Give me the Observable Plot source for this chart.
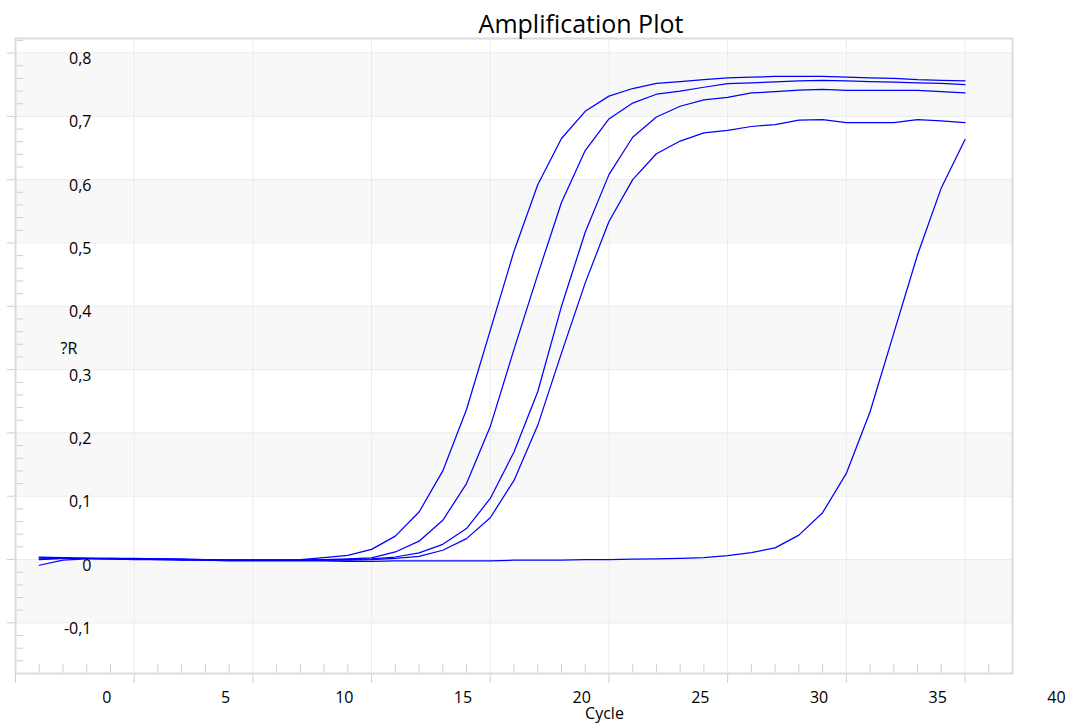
<!DOCTYPE html>
<html><head><meta charset="utf-8">
<script src="https://cdn.jsdelivr.net/npm/d3@7"></script>
<script src="https://cdn.jsdelivr.net/npm/@observablehq/plot@0.6"></script>
<style>body{margin:0;background:#fff;} svg{display:block;}</style>
</head><body><div id="chart"></div>
<script>
const cycles = [1,2,3,4,5,6,7,8,9,10,11,12,13,14,15,16,17,18,19,20,21,22,23,24,25,26,27,28,29,30,31,32,33,34,35,36,37,38,39,40];
const wellA = [0.004,0.003,0.002,0.002,0.002,0.001,0.001,0.000,-0.001,-0.001,-0.001,0.000,0.003,0.0065,0.016,0.037,0.075,0.140,0.237,0.362,0.487,0.592,0.665,0.708,0.732,0.744,0.752,0.755,0.758,0.761,0.762,0.763,0.763,0.763,0.762,0.761,0.760,0.758,0.757,0.756];
const wellB = [0.003,0.002,0.002,0.002,0.001,0.001,0.000,0.000,-0.001,-0.001,-0.001,-0.001,0.000,0.001,0.0025,0.012,0.029,0.062,0.120,0.210,0.332,0.450,0.564,0.646,0.696,0.721,0.735,0.740,0.746,0.7516,0.753,0.7546,0.756,0.757,0.756,0.755,0.754,0.753,0.752,0.750];
const wellC = [0.001,0.002,0.002,0.001,0.001,0.001,0.000,0.000,-0.001,-0.001,-0.001,-0.001,-0.001,0.000,0.001,0.004,0.0105,0.024,0.049,0.0965,0.170,0.265,0.400,0.517,0.608,0.667,0.699,0.716,0.726,0.730,0.737,0.739,0.7415,0.7426,0.741,0.741,0.741,0.741,0.739,0.737];
const wellD = [0.000,0.002,0.002,0.001,0.001,0.000,0.000,-0.001,-0.001,-0.001,-0.001,-0.001,-0.001,-0.001,0.000,0.002,0.005,0.0147,0.033,0.066,0.125,0.212,0.326,0.437,0.534,0.600,0.641,0.661,0.674,0.678,0.684,0.687,0.694,0.695,0.690,0.690,0.690,0.695,0.693,0.690];
const wellE = [-0.009,-0.001,0.001,0.001,0.000,0.000,-0.001,-0.001,-0.002,-0.002,-0.002,-0.002,-0.002,-0.003,-0.003,-0.002,-0.002,-0.002,-0.002,-0.002,-0.001,-0.001,-0.001,0.000,0.000,0.0005,0.001,0.002,0.003,0.006,0.011,0.0184,0.0385,0.074,0.136,0.2335,0.3576,0.4815,0.587,0.6635];
const wellNames = ["A","B","C","D","E"];
const wellValues = [wellA, wellB, wellC, wellD, wellE];

const yTicks = [0.8,0.7,0.6,0.5,0.4,0.3,0.2,0.1,0,-0.1];
const yLabels = ["0,8","0,7","0,6","0,5","0,4","0,3","0,2","0,1","0","-0,1"];
const bandStarts = [0.7,0.5,0.3,0.1,-0.1];
const xGrid = [5,10,15,20,25,30,35,40];
const xMajor = [0,5,10,15,20,25,30,35,40];
const xTickValues = [0,5,10,15,20,25,30,35,40];
const xLabels = ["0","5","10","15","20","25","30","35","40"];
const title = "Amplification Plot";
const xTitle = "Cycle";
const yTitle = "?R";

const table = [];
cycles.forEach((c, i) => wellNames.forEach((w, k) => table.push({cycle: c, value: wellValues[k][i], well: w})));

const xMinor = d3.range(1, 42).filter(d => d % 5 !== 0);
const yMinor = d3.range(-9, 42).map(d => Math.round(d * 2) / 100).filter(d => Math.round(d * 100) % 10 !== 0);

const W = 1069, H = 724, mL = 15, mR = 57, mT = 38, mB = 51;
const fw = W - mL - mR, fh = H - mT - mB;
const tickColor = "#cfcfcf";

const plot = Plot.plot({
  width: W, height: H,
  marginLeft: mL, marginRight: mR, marginTop: mT, marginBottom: mB,
  x: {domain: [0, 42], axis: null},
  y: {domain: [-0.18, 0.823], axis: null},
  style: {fontFamily: "'Open Sans', 'Noto Sans', sans-serif", background: "#fff", color: "#000"},
  marks: [
    Plot.rect(bandStarts, {y1: d => d, y2: d => d + 0.1, fill: "#f8f8f8"}),
    Plot.ruleY(yTicks, {stroke: "#ebebeb"}),
    Plot.ruleX(xGrid, {stroke: "#ebebeb"}),
    Plot.tickX(xMinor, {x: d => d, insetTop: fh - 9, stroke: tickColor}),
    Plot.tickX(xMajor, {x: d => d, insetTop: fh, insetBottom: -10, stroke: tickColor}),
    Plot.tickY(yMinor, {y: d => d, insetRight: fw - 8, stroke: tickColor}),
    Plot.tickY(yTicks, {y: d => d, insetLeft: -8, insetRight: fw, stroke: tickColor}),
    Plot.frame({stroke: "#dcdcdc", strokeWidth: 2}),
    Plot.line(table, {x: "cycle", y: "value", z: "well", stroke: "#0000ff", strokeWidth: 1.25}),
    Plot.text(yTicks, {y: d => d, text: (d, i) => yLabels[i], frameAnchor: "left", lineAnchor: "middle", dx: 76, dy: 6, textAnchor: "end", fontSize: 16, fill: "#000"}),
    Plot.text(xTickValues, {x: d => d, text: (d, i) => xLabels[i], frameAnchor: "bottom", lineAnchor: "middle", dx: 91.4, dy: 24, fontSize: 16, fill: "#000"}),
    Plot.text([xTitle], {frameAnchor: "bottom", lineAnchor: "middle", dx: 90.5, dy: 40, fontSize: 16, fill: "#000"}),
    Plot.text([yTitle], {frameAnchor: "left", lineAnchor: "middle", dx: 45, dy: -7.5, textAnchor: "start", fontSize: 16, fill: "#000"}),
    Plot.text([title], {frameAnchor: "top", lineAnchor: "middle", dx: 67, dy: -14, fontSize: 25, fill: "#000"})
  ]
});
document.getElementById("chart").appendChild(plot);
</script>
</body></html>
